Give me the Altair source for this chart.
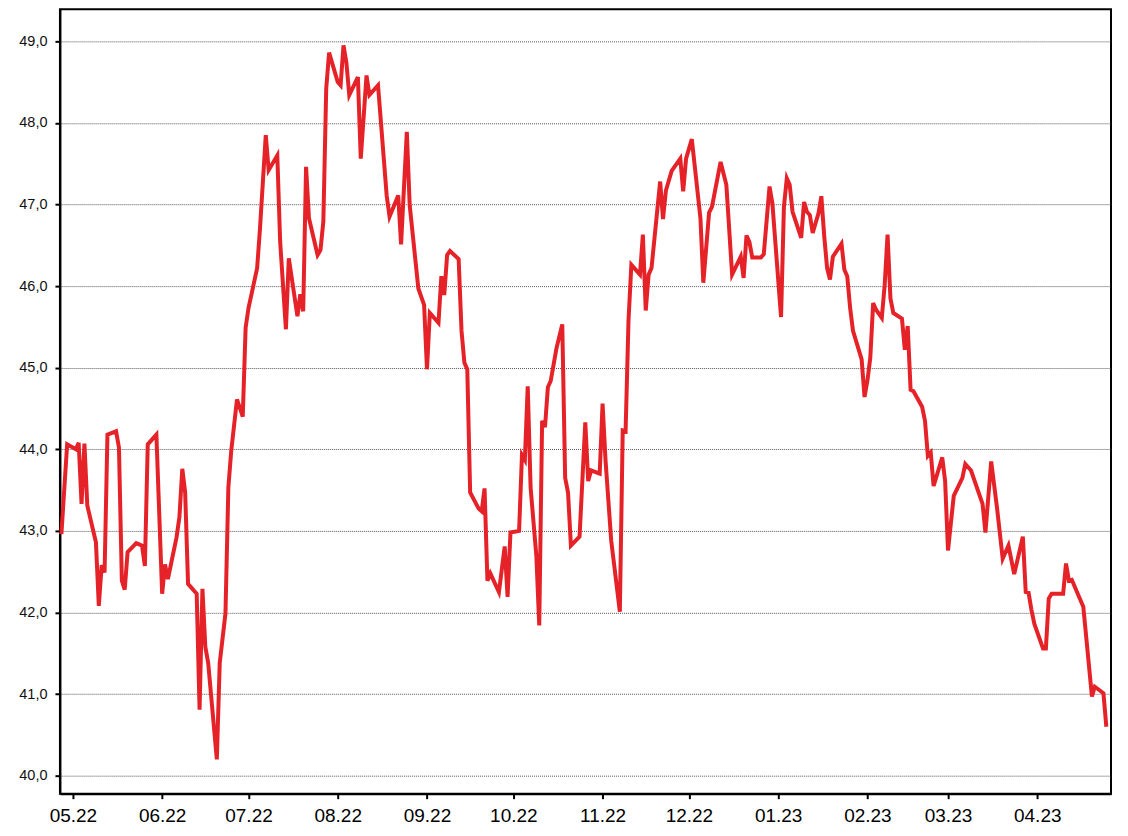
import altair as alt
import pandas as pd

dates = [
    "2022-04-27", "2022-04-29", "2022-05-02", "2022-05-03", "2022-05-04", "2022-05-05", "2022-05-06",
    "2022-05-09", "2022-05-10", "2022-05-11", "2022-05-12", "2022-05-13", "2022-05-16", "2022-05-17",
    "2022-05-18", "2022-05-19", "2022-05-20", "2022-05-23", "2022-05-25", "2022-05-26", "2022-05-27",
    "2022-05-30", "2022-06-01", "2022-06-02", "2022-06-03", "2022-06-06", "2022-06-07", "2022-06-08",
    "2022-06-09", "2022-06-10", "2022-06-13", "2022-06-14", "2022-06-15", "2022-06-16", "2022-06-17",
    "2022-06-20", "2022-06-21", "2022-06-23", "2022-06-24", "2022-06-25", "2022-06-27", "2022-06-29",
    "2022-06-30", "2022-07-01", "2022-07-04", "2022-07-05", "2022-07-07", "2022-07-08", "2022-07-11",
    "2022-07-12", "2022-07-14", "2022-07-15", "2022-07-18", "2022-07-19", "2022-07-20", "2022-07-21",
    "2022-07-22", "2022-07-25", "2022-07-26", "2022-07-27", "2022-07-28", "2022-07-29", "2022-08-01",
    "2022-08-02", "2022-08-03", "2022-08-04", "2022-08-05", "2022-08-08", "2022-08-09", "2022-08-11",
    "2022-08-12", "2022-08-15", "2022-08-18", "2022-08-19", "2022-08-22", "2022-08-23", "2022-08-25",
    "2022-08-26", "2022-08-29", "2022-08-31", "2022-09-01", "2022-09-02", "2022-09-05", "2022-09-06",
    "2022-09-07", "2022-09-08", "2022-09-09", "2022-09-12", "2022-09-13", "2022-09-14", "2022-09-15",
    "2022-09-16", "2022-09-19", "2022-09-20", "2022-09-21", "2022-09-22", "2022-09-23", "2022-09-26",
    "2022-09-28", "2022-09-29", "2022-09-30", "2022-10-03", "2022-10-04", "2022-10-05", "2022-10-06",
    "2022-10-07", "2022-10-09", "2022-10-10", "2022-10-11", "2022-10-12", "2022-10-13", "2022-10-14",
    "2022-10-16", "2022-10-18", "2022-10-19", "2022-10-20", "2022-10-21", "2022-10-24", "2022-10-26",
    "2022-10-27", "2022-10-28", "2022-10-31", "2022-11-01", "2022-11-02", "2022-11-04", "2022-11-07",
    "2022-11-08", "2022-11-09", "2022-11-10", "2022-11-11", "2022-11-14", "2022-11-15", "2022-11-16",
    "2022-11-17", "2022-11-18", "2022-11-21", "2022-11-22", "2022-11-23", "2022-11-25", "2022-11-28",
    "2022-11-29", "2022-11-30", "2022-12-02", "2022-12-05", "2022-12-06", "2022-12-08", "2022-12-09",
    "2022-12-12", "2022-12-14", "2022-12-16", "2022-12-19", "2022-12-20", "2022-12-21", "2022-12-22",
    "2022-12-23", "2022-12-26", "2022-12-27", "2022-12-29", "2022-12-30", "2023-01-02", "2023-01-03",
    "2023-01-04", "2023-01-05", "2023-01-06", "2023-01-09", "2023-01-10", "2023-01-11", "2023-01-12",
    "2023-01-13", "2023-01-15", "2023-01-16", "2023-01-17", "2023-01-18", "2023-01-19", "2023-01-20",
    "2023-01-23", "2023-01-24", "2023-01-25", "2023-01-26", "2023-01-27", "2023-01-30", "2023-01-31",
    "2023-02-01", "2023-02-02", "2023-02-03", "2023-02-04", "2023-02-06", "2023-02-07", "2023-02-08",
    "2023-02-09", "2023-02-10", "2023-02-13", "2023-02-14", "2023-02-15", "2023-02-16", "2023-02-17",
    "2023-02-20", "2023-02-21", "2023-02-22", "2023-02-23", "2023-02-24", "2023-02-27", "2023-02-28",
    "2023-03-01", "2023-03-03", "2023-03-06", "2023-03-07", "2023-03-09", "2023-03-13", "2023-03-14",
    "2023-03-16", "2023-03-18", "2023-03-20", "2023-03-22", "2023-03-24", "2023-03-27", "2023-03-28",
    "2023-03-29", "2023-03-30", "2023-03-31", "2023-04-03", "2023-04-04", "2023-04-05", "2023-04-06",
    "2023-04-10", "2023-04-11", "2023-04-12", "2023-04-13", "2023-04-17", "2023-04-20", "2023-04-21",
    "2023-04-24", "2023-04-25",
]

values = [
    42.96, 44.06, 44.00, 44.08, 43.33, 44.07, 43.31,
    42.86, 42.08, 42.58, 42.49, 44.18, 44.22, 44.02,
    42.39, 42.28, 42.74, 42.85, 42.82, 42.57, 44.06,
    44.18, 42.23, 42.59, 42.41, 42.92, 43.17, 43.76,
    43.47, 42.35, 42.23, 40.81, 42.29, 41.58, 41.38,
    40.20, 41.38, 41.99, 43.53, 43.98, 44.61, 44.40,
    45.49, 45.73, 46.22, 46.71, 47.85, 47.42, 47.60,
    46.54, 45.47, 46.34, 45.63, 45.90, 45.69, 47.46,
    46.83, 46.38, 46.44, 46.79, 48.42, 48.86, 48.50,
    48.46, 48.95, 48.74, 48.34, 48.56, 47.56, 48.58,
    48.34, 48.46, 47.11, 46.85, 47.11, 46.51, 47.89,
    46.99, 45.97, 45.77, 44.98, 45.67, 45.55, 46.12,
    45.89, 46.38, 46.43, 46.33, 45.45, 45.06, 44.98,
    43.47, 43.27, 43.24, 43.52, 42.39, 42.48, 42.25,
    42.81, 42.19, 42.98, 43.00, 43.93, 43.87, 44.77,
    43.53, 42.69, 41.84, 44.35, 44.27, 44.76, 44.84,
    45.24, 45.53, 43.65, 43.47, 42.82, 42.93, 44.33,
    43.61, 43.74, 43.70, 44.56, 43.88, 42.88, 42.01,
    44.23, 44.22, 45.57, 46.26, 46.14, 46.63, 45.70,
    46.14, 46.22, 47.28, 46.82, 47.17, 47.41, 47.56,
    47.16, 47.56, 47.80, 46.83, 46.04, 46.90, 46.97,
    47.52, 47.24, 46.14, 46.36, 46.10, 46.62, 46.54,
    46.35, 46.35, 46.39, 47.22, 47.01, 45.62, 46.97,
    47.32, 47.24, 46.91, 46.59, 47.03, 46.91, 46.87,
    46.65, 46.89, 47.10, 46.61, 46.22, 46.08, 46.36,
    46.52, 46.20, 46.12, 45.73, 45.45, 45.10, 44.64,
    44.84, 45.12, 45.79, 45.71, 45.61, 46.01, 46.63,
    45.85, 45.67, 45.60, 45.22, 45.51, 44.73, 44.71,
    44.52, 44.35, 43.92, 43.96, 43.55, 43.90, 43.61,
    42.76, 43.43, 43.65, 43.82, 43.74, 43.33, 42.98,
    43.85, 43.29, 42.66, 42.82, 42.47, 42.93, 42.25,
    42.24, 42.03, 41.86, 41.56, 41.56, 42.17, 42.23,
    42.23, 42.60, 42.39, 42.40, 42.07, 40.97, 41.09,
    41.01, 40.60,
]

y_ticks = [40, 41, 42, 43, 44, 45, 46, 47, 48, 49]

df = pd.DataFrame({"date": dates, "value": values})

x_domain = [
    alt.DateTime(year=2022, month=4, date=26, hours=12, utc=True),
    alt.DateTime(year=2023, month=4, date=26, hours=15, utc=True),
]

chart = (
    alt.Chart(df)
    .mark_line(color="#e62229", strokeWidth=4, strokeJoin="miter", strokeMiterLimit=4)
    .encode(
        x=alt.X(
            "date:T",
            scale=alt.Scale(type="utc", domain=x_domain, nice=False),
            axis=alt.Axis(
                title=None,
                labelExpr="utcFormat(datum.value, '%m.%y')",
                tickCount="month",
                grid=False,
                labelFlush=False,
                labelOverlap=False,
                labelFont="Liberation Sans",
                labelFontSize=19,
                labelColor="#000000",
                labelPadding=8,
                tickSize=5,
                tickWidth=2,
                tickColor="#000000",
                domainColor="#000000",
                domainWidth=2,
            ),
        ),
        y=alt.Y(
            "value:Q",
            scale=alt.Scale(domain=[39.78, 49.39], nice=False, zero=False),
            axis=alt.Axis(
                title=None,
                values=y_ticks,
                labelExpr="replace(format(datum.value, '.1f'), '.', ',')",
                grid=True,
                gridColor="#555555",
                gridDash=[1, 1],
                gridWidth=1,
                labelFont="Liberation Sans",
                labelFontSize=14.5,
                labelColor="#111111",
                labelPadding=8,
                tickSize=5,
                tickWidth=2,
                tickColor="#000000",
                domainColor="#000000",
                domainWidth=2,
                minExtent=47,
                maxExtent=47,
            ),
        ),
    )
    .properties(
        width=1052,
        height=785,
        padding={"left": 5, "top": 1, "right": 5, "bottom": 5},
    )
    .configure_view(stroke="#000000", strokeWidth=2)
)

chart.save("out.html", embed_options={"renderer": "svg", "actions": False})
